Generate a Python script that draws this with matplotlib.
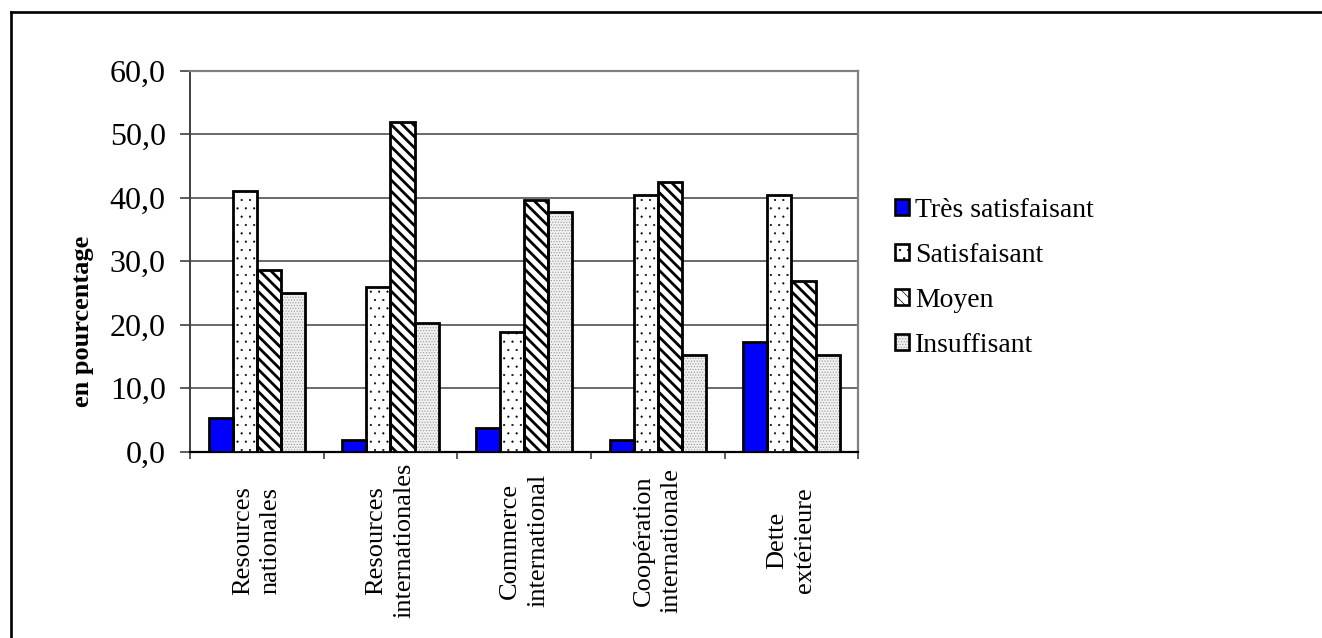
import numpy as np
import matplotlib
matplotlib.use("Agg")
import matplotlib.pyplot as plt
from matplotlib.patches import Patch
from matplotlib.lines import Line2D
from matplotlib.legend_handler import HandlerTuple

plt.rcParams['font.family'] = ['Liberation Serif', 'DejaVu Serif']

# data (percent)
categories = ["Resources\nnationales", "Resources\ninternationales",
              "Commerce\ninternational", "Coopération\ninternationale",
              "Dette\nextérieure"]
series_names = ["Très satisfaisant", "Satisfaisant", "Moyen", "Insuffisant"]
tres_satisfaisant = [5.3, 1.9, 3.7, 1.9, 17.3]
satisfaisant = [41.0, 25.9, 18.9, 40.4, 40.4]
moyen = [28.6, 52.0, 39.7, 42.4, 26.9]
insuffisant = [25.0, 20.3, 37.8, 15.3, 15.3]
y_ticks = [0, 10, 20, 30, 40, 50, 60]

# look of each series: face, hatch, hatch colour, hatch width
styles = [
    dict(face="#0000ff", hatch=None, hcol="black", hlw=1.0),
    dict(face="white", hatch="..", hcol="black", hlw=0.3),
    dict(face="white", hatch="\\\\\\", hcol="black", hlw=2.0),
    dict(face="#f0f0f0", hatch="......", hcol="#9a9a9a", hlw=0.5),
]

W, H = 1322, 638
fig = plt.figure(figsize=(W / 100, H / 100), dpi=100)

# outer frame (only left and top edges are visible)
fig.add_artist(Line2D([11 / W, 11 / W], [1 - 12 / H, -0.1], color="black", lw=1.9,
                      transform=fig.transFigure))
fig.add_artist(Line2D([11 / W, 1.1], [1 - 12 / H, 1 - 12 / H], color="black", lw=1.9,
                      transform=fig.transFigure))

ax = fig.add_axes([190 / W, 1 - 451.7 / H, 668.3 / W, 381 / H])


def set_hlw(p, w):
    if hasattr(p, "set_hatch_linewidth"):
        p.set_hatch_linewidth(w)


x = np.arange(len(categories))
bw = 0.18
handles = []
for i, (vals, st) in enumerate(zip([tres_satisfaisant, satisfaisant, moyen, insuffisant], styles)):
    pos = x + (i - 1.5) * bw
    plt.rcParams['hatch.linewidth'] = st["hlw"]
    fill = ax.bar(pos, vals, bw, color=st["face"], edgecolor=st["hcol"],
                  hatch=st["hatch"], linewidth=0, zorder=3)
    for p in fill:
        set_hlw(p, st["hlw"])
    ax.bar(pos, vals, bw, fill=False, edgecolor="black", linewidth=2.0, zorder=4)
    h1 = Patch(facecolor=st["face"], edgecolor=st["hcol"], hatch=st["hatch"], linewidth=0)
    set_hlw(h1, st["hlw"])
    h2 = Patch(fill=False, edgecolor="black", linewidth=1.9)
    handles.append((h1, h2))

ax.set_xlim(-0.5, len(categories) - 0.5)
ax.set_ylim(0, 60)
ax.set_yticks(y_ticks)
ax.set_yticklabels([f"{v:.1f}".replace(".", ",") for v in y_ticks], fontsize=23)
ax.tick_params(axis="y", direction="out", length=7.5, width=1.2, color="#404040", pad=10)

ax.set_xticks(np.arange(len(categories) + 1) - 0.5)
ax.set_xticklabels([])
ax.tick_params(axis="x", which="major", direction="out", length=5, width=1.2, color="#404040")
ax.set_xticks(x, minor=True)
ax.set_xticklabels(categories, minor=True, rotation=90, fontsize=19, linespacing=1.35,
                   ha="center", va="center", multialignment="center")
ax.tick_params(axis="x", which="minor", length=0, pad=64)

ax.grid(axis="y", color="#505050", lw=1.2, zorder=0)
ax.set_axisbelow(True)
for side in ["top", "right"]:
    ax.spines[side].set_color("#808080")
    ax.spines[side].set_linewidth(1.6)
ax.spines["left"].set_color("#404040")
ax.spines["left"].set_linewidth(1.4)
ax.spines["bottom"].set_color("black")
ax.spines["bottom"].set_linewidth(1.6)

fig.text(83 / W, 1 - 321 / H, "en pourcentage", rotation=90, fontsize=19,
         fontweight="bold", ha="center", va="center")

fig.legend(handles, series_names, loc="upper left",
           bbox_to_anchor=(895 / W, 1 - 198 / H), frameon=False, fontsize=20,
           handler_map={tuple: HandlerTuple(ndivide=1, pad=0)},
           handlelength=0.5, handleheight=0.5, handletextpad=0.22,
           labelspacing=0.72, borderaxespad=0, borderpad=0)

fig.savefig("out.png", dpi=100)
